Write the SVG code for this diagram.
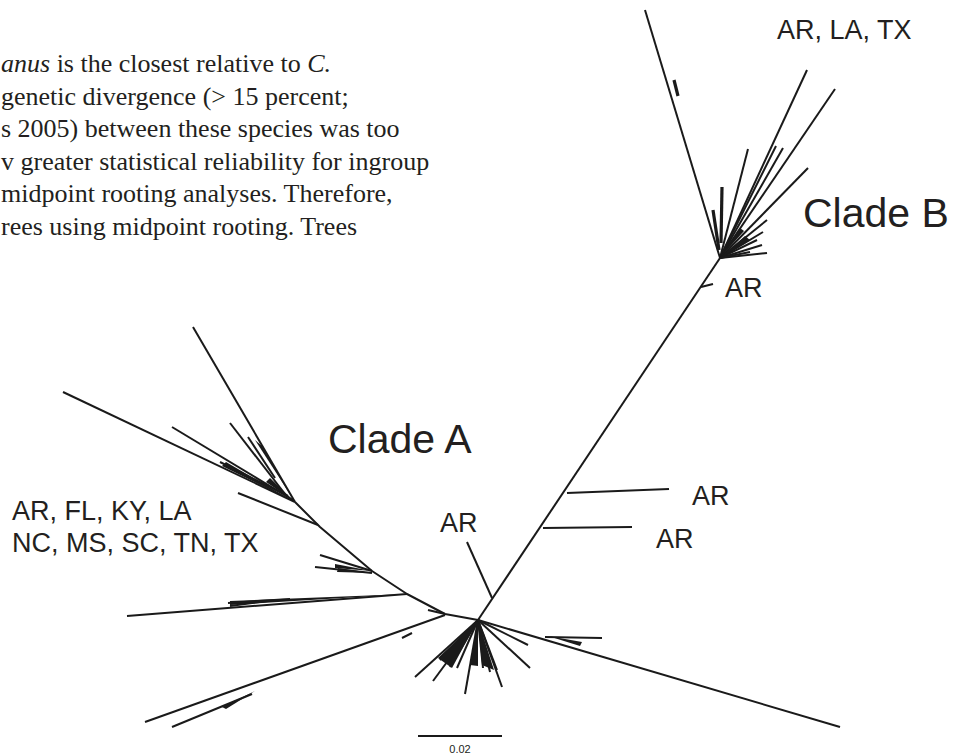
<svg xmlns="http://www.w3.org/2000/svg" width="956" height="755" viewBox="0 0 956 755">
<style>
.para{font-family:"Liberation Serif","Times New Roman",serif;font-size:26px;fill:#231f20}
.lab{font-family:"Liberation Sans",Arial,sans-serif;font-size:27px;fill:#231f20}
.clade{font-family:"Liberation Sans",Arial,sans-serif;font-size:41px;fill:#231f20}
.sc{font-family:"Liberation Sans",Arial,sans-serif;font-size:11px;fill:#231f20}
.br{stroke:#1a1a1a;stroke-width:2;fill:none;stroke-linecap:butt;stroke-linejoin:round}
.th{stroke:#1a1a1a;stroke-width:3.2;fill:none}
.wd{fill:#1a1a1a;stroke:none}
</style>
<rect width="956" height="755" fill="#ffffff"/>
<g id="paragraph" class="para">
<text x="1" y="72"><tspan font-style="italic">anus</tspan> is the closest relative to <tspan font-style="italic">C.</tspan></text>
<text x="1" y="104.6">genetic divergence (&gt; 15 percent;</text>
<text x="1" y="137.2">s 2005) between these species was too</text>
<text x="1" y="169.8">v greater statistical reliability for ingroup</text>
<text x="1" y="202.4">midpoint rooting analyses. Therefore,</text>
<text x="1" y="235">rees using midpoint rooting. Trees</text>
</g>
<g id="connectors">
<g id="trunk">
<path class="br" d="M478,620 L720,258"/>
<path class="br" d="M567,493 L669,489"/>
<path class="br" d="M543,528 L632,527"/>
<path class="br" d="M467,542 L492,598"/>
<path class="br" d="M701,287 L713,284"/>
</g>
<g id="cladeB-branches">
<path class="br" d="M720,258 L645,10"/>
<path class="th" d="M674,80 L678,96"/>
<path class="br" d="M720,258 L807,70"/>
<path class="br" d="M720,258 L835,89"/>
<path class="br" d="M720,258 L783,148"/>
<path class="br" d="M720,258 L776,146"/>
<path class="br" d="M720,258 L748,149"/>
<path class="br" d="M720,258 L808,168"/>
<path class="br" d="M720,258 L767,220"/>
<path class="br" d="M720,258 L763,232"/>
<path class="br" d="M720,258 L757,240"/>
<path class="br" d="M720,258 L762,245"/>
<path class="br" d="M720,258 L767,253"/>
<path class="br" d="M720,258 L750,252"/>
<path class="th" d="M722,187 L721,243"/>
<path class="th" d="M713,210 L719,250"/>
<polygon class="wd" points="720,258 745,236 750,240"/>
<polygon class="wd" points="720,258 740,228 744,231"/>
</g>
<g id="cladeA-branches">
<path class="br" d="M478,620 L445,614 L407,594 L372,571 L320,527 L295,502"/>
<path class="br" d="M295,502 L193,327"/>
<path class="br" d="M295,502 L63,392"/>
<path class="br" d="M293,500 L172,427"/>
<path class="br" d="M285,494 L230,423"/>
<path class="br" d="M275,478 L248,437"/>
<path class="br" d="M288,496 L220,462"/>
<polygon class="wd" points="295,502 255,440 262,446"/>
<polygon class="wd" points="295,502 222,466 226,462"/>
<polygon class="wd" points="295,502 270,478 266,482"/>
<path class="br" d="M318,525 L238,493"/>
<path class="br" d="M372,571 L320,555"/>
<path class="br" d="M372,573 L315,567"/>
<polygon class="wd" points="372,571 335,564 335,568"/>
<polygon class="wd" points="372,573 338,568 337,572"/>
<path class="br" d="M407,594 L127,616"/>
<polygon class="wd" points="407,594 230,601 230,605"/>
<path class="br" d="M290,599 L228,603"/>
<path class="br" d="M268,601 L230,606"/>
<path class="br" d="M428,610 L445,614"/>
<path class="br" d="M445,615 L145,722"/>
<path class="br" d="M252,694 L172,727"/>
<polygon class="wd" points="255,691 222,707 226,709"/>
<path class="br" d="M402,638 L412,633"/>
</g>
<g id="hub-branches">
<path class="br" d="M478,620 L415,677"/>
<path class="br" d="M478,620 L433,681"/>
<path class="br" d="M478,620 L440,660"/>
<path class="br" d="M478,620 L450,667"/>
<path class="br" d="M478,620 L457,668"/>
<path class="br" d="M478,620 L465,694"/>
<path class="br" d="M478,620 L483,668"/>
<path class="br" d="M478,620 L490,672"/>
<path class="br" d="M478,620 L497,670"/>
<path class="br" d="M478,620 L502,687"/>
<path class="br" d="M478,620 L528,645"/>
<path class="br" d="M478,620 L530,668"/>
<polygon class="wd" points="478,620 438,658 452,668"/>
<polygon class="wd" points="478,620 470,665 478,666"/>
<polygon class="wd" points="478,620 482,665 494,670"/>
<path class="br" d="M478,620 L840,727"/>
<path class="br" d="M545,637 L602,638"/>
<polygon class="wd" points="548,636 582,642 580,646"/>
</g>
</g>
<g id="labels">
<text class="lab" x="777" y="39">AR, LA, TX</text>
<text class="clade" x="803" y="227">Clade B</text>
<text class="lab" x="725" y="297">AR</text>
<text class="clade" x="328" y="453">Clade A</text>
<text class="lab" x="692" y="505">AR</text>
<text class="lab" x="656" y="548">AR</text>
<text class="lab" x="440" y="532">AR</text>
<text class="lab" x="12" y="520">AR, FL, KY, LA</text>
<text class="lab" x="12" y="552">NC, MS, SC, TN, TX</text>
</g>
<g id="scalebar">
<path class="br" d="M418,736 L502,736"/>
<text class="sc" x="460" y="753" text-anchor="middle">0.02</text>
</g>
</svg>
